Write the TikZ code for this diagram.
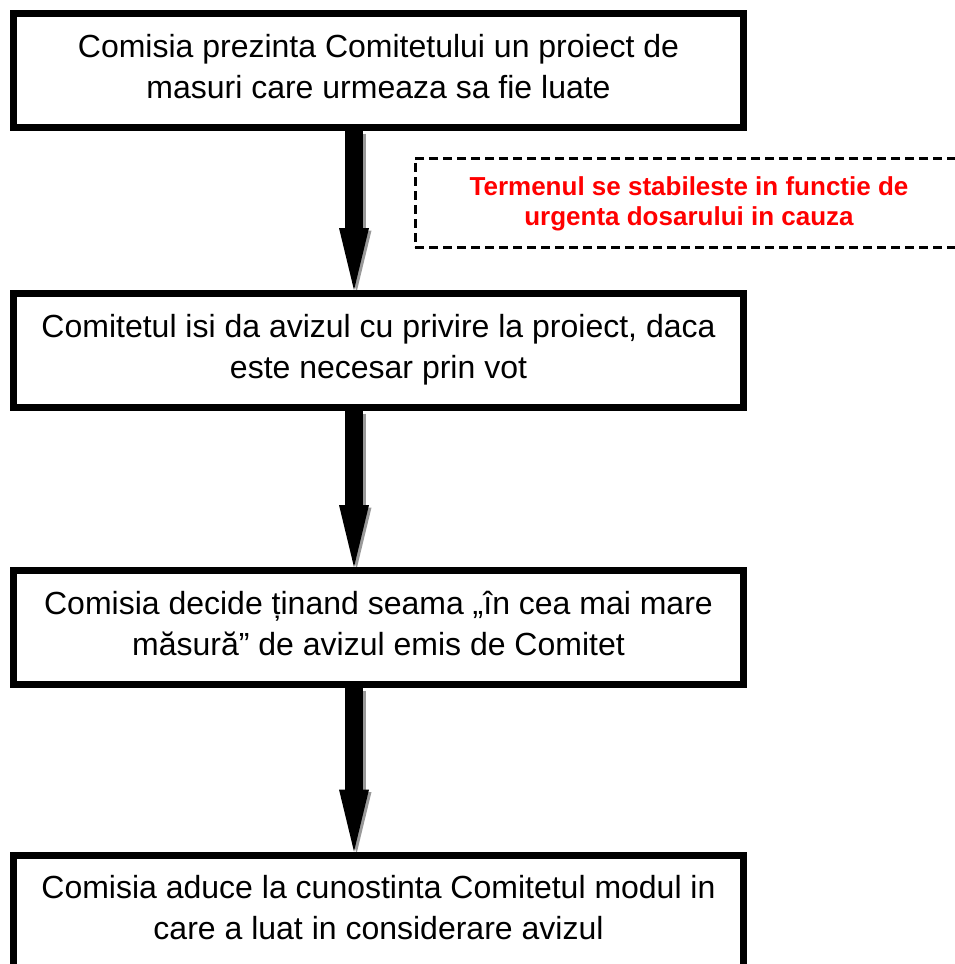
\documentclass[tikz,border=0pt]{standalone}
\usepackage{fontspec}
\setmainfont{Liberation Sans}
\usetikzlibrary{arrows.meta}
\pgfdeclarelayer{background}
\pgfsetlayers{background,main}
\begin{document}
\begin{tikzpicture}[x=1pt,y=1pt,
  stepbox/.style={draw=black, line width=7pt, minimum width=730pt, minimum height=114pt,
    inner sep=0pt, align=center, font=\fontsize{32}{41}\selectfont,
    text height=62pt, text depth=7pt},
  note/.style={draw=black, line width=3pt, dash pattern=on 9pt off 5pt,
    minimum width=548pt, minimum height=89pt, inner sep=0pt, align=center,
    text=red, font=\fontsize{26}{30}\selectfont\bfseries,
    text height=51pt, text depth=6pt},
  flow/.style={line width=18pt, draw=black,
    -{Triangle[width=30pt,length=62pt,line width=0pt]}},
  shadowflow/.style={flow, draw=black!40, transform canvas={shift={(2.5pt,-2.5pt)}}}
]
\useasboundingbox (0,0) rectangle (954,-964);
\node[stepbox] (b1) at (378.5,-70.5) {Comisia prezinta Comitetului un proiect de\\masuri care urmeaza sa fie luate};
\node[stepbox] (b2) at (378.5,-350.5) {Comitetul isi da avizul cu privire la proiect, daca\\este necesar prin vot};
\node[stepbox] (b3) at (378.5,-627.5) {Comisia decide ținand seama „în cea mai mare\\măsură” de avizul emis de Comitet};
\node[stepbox] (b4) at (378.5,-912) {Comisia aduce la cunostinta Comitetul modul in\\care a luat in considerare avizul};
\node[note] (n) at (689,-202.5) {Termenul se stabileste in functie de\\urgenta dosarului in cauza};
\begin{pgfonlayer}{background}
\foreach \a/\b in {b1/b2,b2/b3,b3/b4}{
  \draw[shadowflow] ([xshift=-24.5pt]\a.south) -- ([xshift=-24.5pt]\b.north);
  \draw[flow] ([xshift=-24.5pt]\a.south) -- ([xshift=-24.5pt]\b.north);
}
\end{pgfonlayer}
\end{tikzpicture}
\end{document}
